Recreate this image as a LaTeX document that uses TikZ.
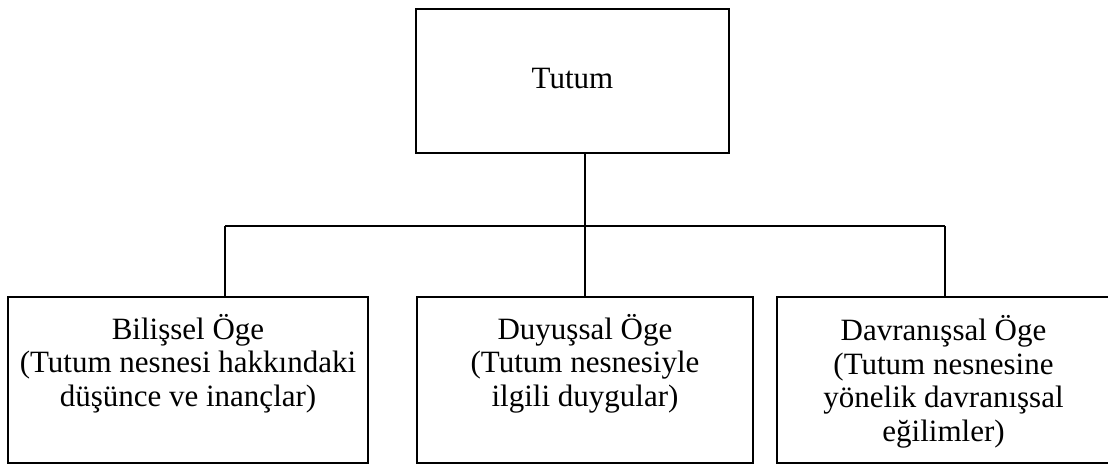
\documentclass[tikz,border=0pt]{standalone}
\usepackage{fontspec}
\setmainfont{Liberation Serif}
\begin{document}
\begin{tikzpicture}[x=1pt,y=-1pt,
  box/.style={draw=black,line width=1.4pt,rectangle,inner sep=0pt,fill=white},
  txt/.style={inner sep=0pt,align=center,font=\fontsize{31}{33.5}\selectfont},
  link/.style={draw=black,line width=1.4pt}]
\useasboundingbox (0,0) rectangle (1108,466);
\clip (0,0) rectangle (1108,466);

% top concept
\node[box,minimum width=313pt,minimum height=144pt,
      font=\fontsize{31}{33.5}\selectfont,text height=20.5pt,text depth=6pt]
      (top) at (572.5,81) {Tutum};

% three components
\node[box,minimum width=360pt,minimum height=166pt] (b1) at (188,380) {};
\node[box,minimum width=336pt,minimum height=166pt] (b2) at (585,380) {};
\node[box,minimum width=333pt,minimum height=166pt] (b3) at (943.5,380) {};

% labels (base anchor sits on the last line)
\node[txt,anchor=base] (t1) at ([yshift=-110pt]b1.north)
  {Bilişsel Öge\\(Tutum nesnesi hakkındaki\\düşünce ve inançlar)};
\node[txt,anchor=base] (t2) at ([yshift=-110pt]b2.north)
  {Duyuşsal Öge\\(Tutum nesnesiyle\\ilgili duygular)};
\node[txt,anchor=base] (t3) at ([yshift=-145pt]b3.north)
  {Davranışsal Öge\\(Tutum nesnesine\\yönelik davranışsal\\eğilimler)};

% connectors
\coordinate (hl) at (225,226);
\coordinate (hr) at (945,226);
\draw[link] (b2.north |- top.south) -- (b2.north);
\draw[link] (hl) -- (hr);
\draw[link] (hl) -- (hl |- b1.north);
\draw[link] (hr) -- (hr |- b3.north);
\end{tikzpicture}
\end{document}
